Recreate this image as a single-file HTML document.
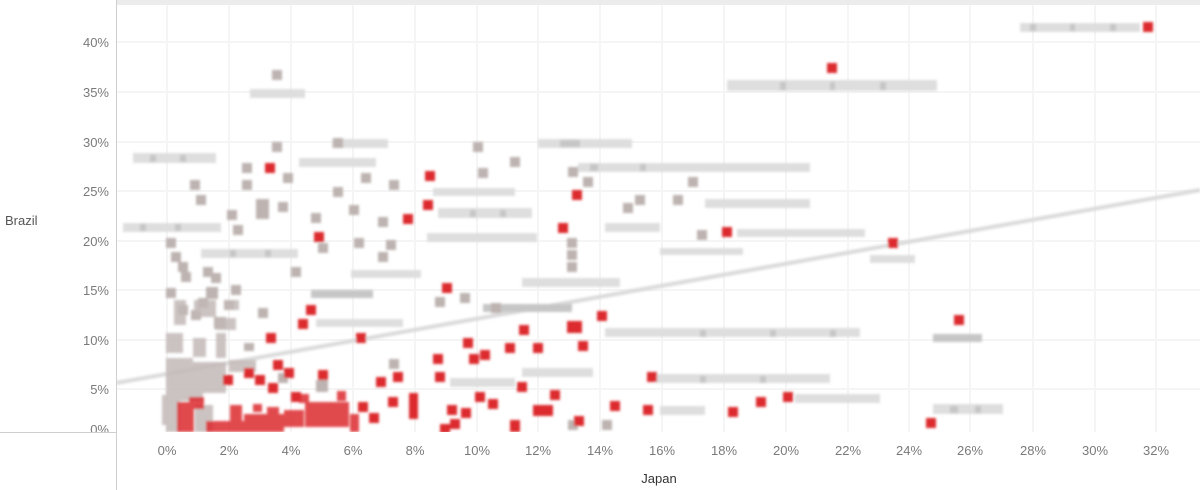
<!DOCTYPE html>
<html>
<head>
<meta charset="utf-8">
<style>
html,body{margin:0;padding:0;background:#fff;}
body{width:1200px;height:490px;overflow:hidden;}
svg{display:block;}
text{font-family:"Liberation Sans",sans-serif;}
</style>
</head>
<body>
<svg width="1200" height="490" viewBox="0 0 1200 490" xmlns="http://www.w3.org/2000/svg">
<defs>
<filter id="bl" x="-20%" y="-20%" width="140%" height="140%"><feGaussianBlur stdDeviation="1.3"/></filter>
<clipPath id="plot"><rect x="117" y="5" width="1083" height="427"/></clipPath>
<clipPath id="yax"><rect x="0" y="0" width="116" height="432"/></clipPath>
</defs>
<rect width="1200" height="490" fill="#fff"/>
<rect x="117" y="0" width="1083" height="5" fill="#ececec"/>
<path stroke="#f5f5f5" stroke-width="2" fill="none" d="M167 5V432M229 5V432M291 5V432M353 5V432M415 5V432M477 5V432M538 5V432M600 5V432M662 5V432M724 5V432M786 5V432M848 5V432M909 5V432M970 5V432M1033 5V432M1095 5V432M1156 5V432M117 42H1200M117 92H1200M117 142H1200M117 191H1200M117 241H1200M117 290H1200M117 340H1200M117 389H1200"/>
<g clip-path="url(#plot)" filter="url(#bl)">
<line x1="116" y1="383" x2="1200" y2="190" stroke="#dadada" stroke-width="4"/>
<path fill="#dedede" d="M1020 23h120v9h-120z M727 80h210v11h-210z M250 89h55v9h-55z M133 153h83v10h-83z M332 139h56v9h-56z M299 158h77v9h-77z M123 223h98v9h-98z M201 249h97v9h-97z M351 270h70v8h-70z M538 139h94v9h-94z M578 163h232v9h-232z M433 188h82v8h-82z M438 208h94v10h-94z M427 233h110v9h-110z M705 199h105v9h-105z M605 223h55v9h-55z M737 229h128v8h-128z M660 248h83v7h-83z M870 255h45v8h-45z M522 278h98v9h-98z M316 319h87v8h-87z M605 328h255v9h-255z M522 368h71v9h-71z M450 378h65v9h-65z M655 374h175v9h-175z M795 394h85v9h-85z M660 406h45v9h-45z M933 404h70v10h-70z"/>
<path fill="#c6c6c6" d="M311 290h62v8h-62z M483 304h89v8h-89z M933 334h49v8h-49z M1030 24h6v7h-6z M1070 24h5v7h-5z M1110 24h6v7h-6z M780 82h6v8h-6z M880 82h6v8h-6z M830 82h5v8h-5z M560 140h20v7h-20z M590 164h8v7h-8z M640 164h6v7h-6z M150 155h6v7h-6z M180 155h6v7h-6z M140 224h6v7h-6z M175 224h6v7h-6z M230 250h6v7h-6z M265 250h6v7h-6z M470 210h6v7h-6z M500 210h6v7h-6z M700 330h6v7h-6z M770 330h6v7h-6z M830 330h6v7h-6z M700 376h6v7h-6z M760 376h6v7h-6z M950 406h8v7h-8z M975 406h6v7h-6z"/>
<path fill="#bdb3b0" d="M272 70h10v10h-10z M272 142h10v10h-10z M190 180h10v10h-10z M196 195h10v10h-10z M242 163h10v10h-10z M242 180h10v10h-10z M256 199h13v20h-13z M278 202h10v10h-10z M227 210h10v10h-10z M233 225h10v10h-10z M283 173h10v10h-10z M333 138h10v10h-10z M361 173h10v10h-10z M333 187h10v10h-10z M389 180h10v10h-10z M349 205h10v10h-10z M311 213h10v10h-10z M378 217h10v10h-10z M166 238h10v10h-10z M318 243h10v10h-10z M354 238h10v10h-10z M386 240h10v10h-10z M378 252h10v10h-10z M171 252h10v10h-10z M178 262h10v10h-10z M203 267h10v10h-10z M291 267h10v10h-10z M181 272h10v10h-10z M211 273h10v10h-10z M166 288h10v10h-10z M206 287h12v12h-12z M231 285h10v10h-10z M198 298h10v10h-10z M224 300h10v10h-10z M178 305h10v10h-10z M191 310h10v10h-10z M258 308h10v10h-10z M214 317h12v12h-12z M473 142h10v10h-10z M510 157h10v10h-10z M478 168h10v10h-10z M568 167h10v10h-10z M583 177h10v10h-10z M688 177h10v10h-10z M635 195h10v10h-10z M623 203h10v10h-10z M673 195h10v10h-10z M567 238h10v10h-10z M567 250h10v10h-10z M567 262h10v10h-10z M697 230h10v10h-10z M460 293h10v10h-10z M435 297h10v10h-10z M491 303h10v10h-10z M568 420h10v10h-10z M602 420h10v10h-10z M278 373h10v10h-10z M316 380h12v12h-12z M389 359h10v10h-10z M244 343h10v8h-10z"/>
<path fill="#c2b9b6" opacity="0.85" d="M174 300h12v25h-12z M194 300h22v17h-22z M216 318h20v12h-20z M226 300h13v10h-13z M166 333h17v20h-17z M193 338h13v19h-13z M216 333h10v25h-10z M166 358h27v19h-27z M193 362h33v25h-33z M229 360h27v12h-27z M166 377h14v55h-14z M179 377h47v16h-47z M180 393h23v8h-23z M195 405h18v27h-18z M162 395h8v30h-8z"/>
<path fill="#dc2a2f" d="M1143 22h10v10h-10z M827 63h10v10h-10z M265 163h10v10h-10z M425 171h10v10h-10z M572 190h10v10h-10z M423 200h10v10h-10z M403 214h10v10h-10z M558 223h10v10h-10z M722 227h10v10h-10z M888 238h10v10h-10z M314 232h10v10h-10z M442 283h10v10h-10z M306 305h10v10h-10z M298 319h10v10h-10z M266 333h10v10h-10z M356 333h10v10h-10z M597 311h10v10h-10z M567 321h15v12h-15z M519 325h10v10h-10z M463 338h10v10h-10z M505 343h10v10h-10z M533 343h10v10h-10z M578 341h10v10h-10z M480 350h10v10h-10z M469 354h10v10h-10z M433 354h10v10h-10z M435 372h10v10h-10z M647 372h10v10h-10z M517 382h10v10h-10z M550 390h10v10h-10z M475 392h10v10h-10z M488 399h10v10h-10z M409 393h9v26h-9z M447 405h10v10h-10z M461 408h10v10h-10z M533 405h20v11h-20z M610 401h10v10h-10z M643 405h10v10h-10z M728 407h10v10h-10z M756 397h10v10h-10z M783 392h10v10h-10z M450 419h10v10h-10z M440 424h10v9h-10z M510 420h10v12h-10z M574 416h10v10h-10z M954 315h10v10h-10z M926 418h10v10h-10z M273 360h10v10h-10z M244 368h10v10h-10z M223 375h10v10h-10z M255 375h10v10h-10z M284 368h10v10h-10z M318 370h10v10h-10z M268 383h10v10h-10z M291 392h10v10h-10z M376 377h10v10h-10z M393 372h10v10h-10z M388 397h10v10h-10z M358 402h10v10h-10z M369 413h10v10h-10z"/>
<path fill="#dc2a2f" opacity="0.85" d="M177 402h17v30h-17z M189 397h15v12h-15z M206 421h38v11h-38z M230 405h12v27h-12z M244 414h40v18h-40z M267 407h12v15h-12z M284 410h20v17h-20z M305 402h44v25h-44z M337 391h9v10h-9z M350 414h9v18h-9z M299 394h10v9h-10z M253 404h9v8h-9z"/>
</g>
<line x1="116.5" y1="0" x2="116.5" y2="490" stroke="#cfcfcf" stroke-width="1"/>
<line x1="0" y1="432.5" x2="117" y2="432.5" stroke="#cfcfcf" stroke-width="1"/>
<g font-size="13" fill="#7a7a7a" text-anchor="end">
<text x="109" y="47">40%</text>
<text x="109" y="97">35%</text>
<text x="109" y="147">30%</text>
<text x="109" y="196">25%</text>
<text x="109" y="246">20%</text>
<text x="109" y="295">15%</text>
<text x="109" y="345">10%</text>
<text x="109" y="394">5%</text>
<g clip-path="url(#yax)"><text x="109" y="434">0%</text></g>
</g>
<g font-size="13" fill="#7a7a7a" text-anchor="middle">
<text x="167" y="455">0%</text>
<text x="229" y="455">2%</text>
<text x="291" y="455">4%</text>
<text x="353" y="455">6%</text>
<text x="415" y="455">8%</text>
<text x="477" y="455">10%</text>
<text x="538" y="455">12%</text>
<text x="600" y="455">14%</text>
<text x="662" y="455">16%</text>
<text x="724" y="455">18%</text>
<text x="786" y="455">20%</text>
<text x="848" y="455">22%</text>
<text x="909" y="455">24%</text>
<text x="970" y="455">26%</text>
<text x="1033" y="455">28%</text>
<text x="1095" y="455">30%</text>
<text x="1156" y="455">32%</text>
</g>
<text x="5" y="225" font-size="13" fill="#555">Brazil</text>
<text x="659" y="483" font-size="13" fill="#333" text-anchor="middle">Japan</text>
</svg>
</body>
</html>
